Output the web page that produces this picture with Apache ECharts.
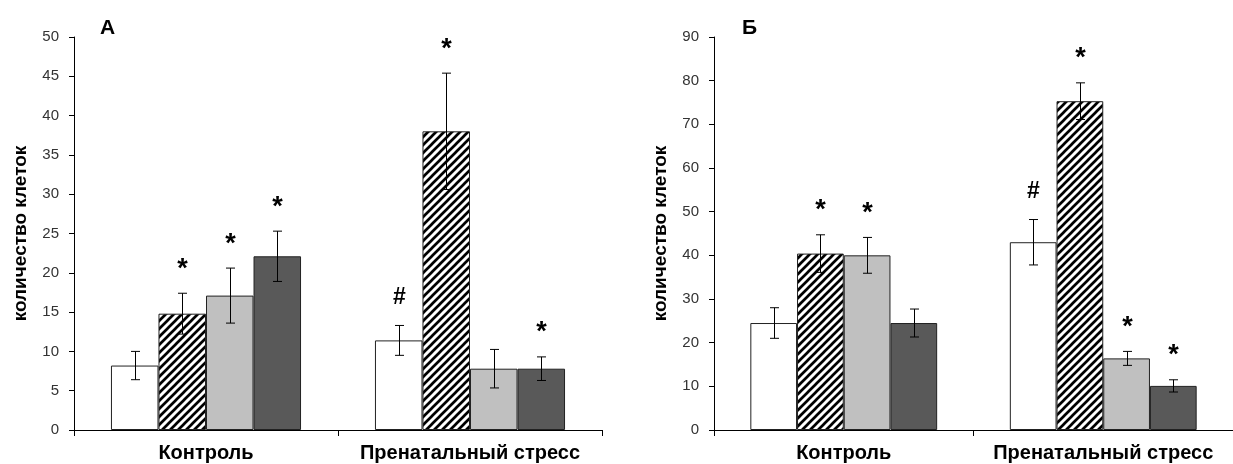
<!DOCTYPE html>
<html>
<head>
<meta charset="utf-8">
<style>
  html, body { margin: 0; padding: 0; background: #fff; }
  #chart { width: 1233px; height: 464px; }
</style>
<script src="https://cdn.jsdelivr.net/npm/echarts@6/dist/echarts.min.js"></script>
</head>
<body>
<div id="chart"></div>
<script>
// Groups on the x axis
const categories = ['Контроль', 'Пренатальный стресс'];
const yAxisTitle = 'количество клеток';
const panelTitles = ['А', 'Б'];

// Panel А: one row per bar style (white, hatched, light grey, dark grey), one value per group
const meansA = [[8.2, 11.4], [14.8, 38.0], [17.1, 7.8], [22.1, 7.8]];
const errorsA = [[1.8, 1.9], [2.6, 7.4], [3.5, 2.45], [3.2, 1.5]];
const marksA = [['', '#'], ['*', '*'], ['*', ''], ['*', '*']];
const yScaleA = [0, 50, 5]; // min, max, step

// Panel Б
const meansB = [[24.5, 43.0], [40.4, 75.3], [40.0, 16.4], [24.5, 10.1]];
const errorsB = [[3.5, 5.2], [4.3, 4.2], [4.1, 1.6], [3.2, 1.4]];
const marksB = [['', '#'], ['*', '*'], ['*', '*'], ['', '*']];
const yScaleB = [0, 90, 10];

const FONT = 'Arial, "Liberation Sans", sans-serif';
const BAR_FRACTION = 0.18;
const MARK_GAP = 28;

// Diagonal "/" hatch fill
function makeHatch() {
  const s = 8;
  const c = document.createElement('canvas');
  c.width = s; c.height = s;
  const g = c.getContext('2d');
  g.fillStyle = '#fff';
  g.fillRect(0, 0, s, s);
  g.strokeStyle = '#000';
  g.lineWidth = 2.7;
  g.beginPath();
  g.moveTo(-2, s + 2); g.lineTo(s + 2, -2);
  g.moveTo(-2, 2); g.lineTo(2, -2);
  g.moveTo(s - 2, s + 2); g.lineTo(s + 2, s - 2);
  g.stroke();
  return c;
}

const hatch = { image: makeHatch(), repeat: 'repeat' };
const barFills = ['#ffffff', hatch, '#c0c0c0', '#595959'];

const chart = echarts.init(document.getElementById('chart'), null, { renderer: 'canvas' });

function xAxisFor(gridIndex) {
  return {
    type: 'category',
    gridIndex,
    data: categories,
    axisLine: { show: true, lineStyle: { color: '#000', width: 1 } },
    axisTick: { show: true, length: 6, alignWithLabel: false, lineStyle: { color: '#000' } },
    axisLabel: { interval: 0, margin: 13, color: '#000', fontSize: 20, fontWeight: 'bold', fontFamily: FONT },
    splitLine: { show: false }
  };
}

function yAxisFor(gridIndex, scale) {
  return {
    type: 'value',
    gridIndex,
    min: scale[0], max: scale[1], interval: scale[2],
    name: yAxisTitle,
    nameLocation: 'middle',
    nameRotate: 90,
    nameGap: 44,
    nameTextStyle: { color: '#000', fontSize: 19, fontWeight: 'bold', fontFamily: FONT },
    axisLine: { show: true, lineStyle: { color: '#000', width: 1 } },
    axisTick: { show: true, length: 5, lineStyle: { color: '#000' } },
    axisLabel: { margin: 15, color: '#333', fontSize: 15, fontFamily: FONT },
    splitLine: { show: false }
  };
}

function barSeries(gridIndex, means) {
  return means.map((vals, s) => ({
    type: 'bar',
    xAxisIndex: gridIndex,
    yAxisIndex: gridIndex,
    data: vals,
    barWidth: (BAR_FRACTION * 100) + '%',
    barGap: '0%',
    itemStyle: { color: barFills[s], borderColor: '#222', borderWidth: 1 },
    emphasis: { disabled: true },
    silent: true,
    z: 2
  }));
}

// Error bars and significance marks drawn over the bars
function errorSeries(gridIndex, means, errors, marks) {
  const items = [], itemBar = [], itemMark = [];
  means.forEach((vals, s) => {
    vals.forEach((v, c) => {
      items.push([c, v, errors[s][c]]);
      itemBar.push(s);
      itemMark.push(marks[s][c]);
    });
  });
  return {
    type: 'custom',
    xAxisIndex: gridIndex,
    yAxisIndex: gridIndex,
    data: items,
    silent: true,
    z: 5,
    renderItem(params, api) {
      const cat = api.value(0), mean = api.value(1), err = api.value(2);
      const band = api.size([1, 0])[0];
      const dx = (itemBar[params.dataIndex] - 1.5) * band * BAR_FRACTION;
      const hi = api.coord([cat, mean + err]);
      const lo = api.coord([cat, mean - err]);
      const x = Math.round(hi[0] + dx) + 0.5;
      const capHalf = 4.5;
      const line = { stroke: '#000', lineWidth: 1 };
      const children = [
        { type: 'line', shape: { x1: x, y1: hi[1], x2: x, y2: lo[1] }, style: line },
        { type: 'line', shape: { x1: x - capHalf, y1: hi[1], x2: x + capHalf, y2: hi[1] }, style: line },
        { type: 'line', shape: { x1: x - capHalf, y1: lo[1], x2: x + capHalf, y2: lo[1] }, style: line }
      ];
      const mark = itemMark[params.dataIndex];
      if (mark) {
        const isStar = mark === '*';
        children.push({
          type: 'text',
          style: {
            text: mark,
            x: x,
            y: hi[1] - MARK_GAP + (isStar ? 4 : 0),
            align: 'center',
            verticalAlign: 'middle',
            fill: '#000',
            font: 'bold ' + (isStar ? 27 : 23) + 'px ' + FONT
          }
        });
      }
      return { type: 'group', children };
    }
  };
}

chart.setOption({
  animation: false,
  textStyle: { fontFamily: FONT },
  title: [
    { text: panelTitles[0], left: 95, top: 13, textStyle: { fontSize: 21, fontWeight: 'bold', color: '#000', fontFamily: FONT } },
    { text: panelTitles[1], left: 737, top: 13, textStyle: { fontSize: 21, fontWeight: 'bold', color: '#000', fontFamily: FONT } }
  ],
  grid: [
    { left: 74, top: 37, width: 528, bottom: 34, containLabel: false },
    { left: 714, top: 37, width: 528, bottom: 34, containLabel: false }
  ],
  xAxis: [xAxisFor(0), xAxisFor(1)],
  yAxis: [yAxisFor(0, yScaleA), yAxisFor(1, yScaleB)],
  series: [
    ...barSeries(0, meansA),
    ...barSeries(1, meansB),
    errorSeries(0, meansA, errorsA, marksA),
    errorSeries(1, meansB, errorsB, marksB)
  ]
});
</script>
</body>
</html>
